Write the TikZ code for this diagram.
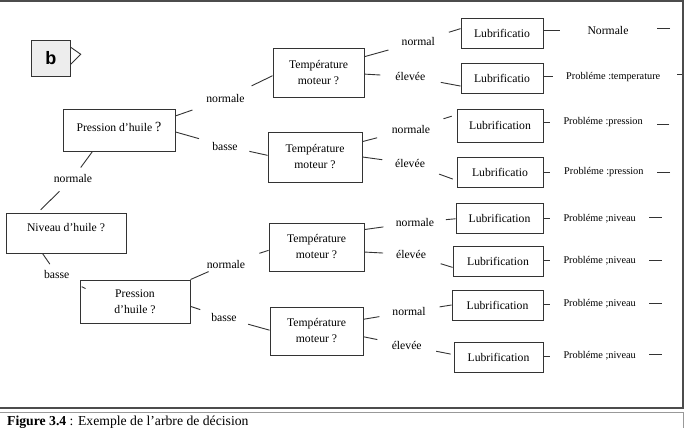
\documentclass[tikz,border=0pt]{standalone}
\usepackage{fontspec}
\setmainfont{Liberation Serif}
\newfontfamily\badgefont{Liberation Sans}

\begin{document}
\begin{tikzpicture}[x=1pt,y=-1pt,
  wire/.style={draw=black!80,line width=0.9pt},
  box node/.style={wire,inner sep=0pt,align=center,font=\fontsize{11.7}{16}\selectfont},
  label node/.style={inner sep=1pt,font=\fontsize{11.7}{14}\selectfont},
  result node/.style={inner sep=2pt,anchor=west},
  every edge/.style={wire}]

  \useasboundingbox (0,0) rectangle (688,428);

  % frame and caption
  \draw[draw=black!70,line width=1.6pt] (-5,1) rectangle (683,408);
  \draw[draw=black!40,line width=1pt] (-5,412.5) rectangle (683,450);
  \node[anchor=base west,inner sep=0pt,font=\fontsize{13.7}{16}\selectfont] (caption) at (7,425)
    {\textbf{Figure 3.4} : Exemple de l’arbre de décision};

  % badge
  \node[box node,fill=black!7,minimum width=39pt,minimum height=36pt,
    font=\badgefont\bfseries\fontsize{18}{18}\selectfont] (b) at (50.8,58) {b};
  \draw[wire] ([yshift=10.7pt]b.east) -- ([shift={(10pt,3.7pt)}]b.east) -- ([yshift=-6.3pt]b.east);

  % questions
  \node[box node,minimum width=120pt,minimum height=40pt,text height=8pt,text depth=12pt] (N) at (66,233) {Niveau d’huile ?};
  \node[box node,minimum width=112pt,minimum height=42pt,text height=10pt,text depth=8pt] (P1) at (119,130)
    {Pression d’huile {\fontsize{14}{14}\selectfont ?}};
  \node[box node,minimum width=110pt,minimum height=43pt] (P2) at (135,301.5) {Pression\\d’huile ?};

  \node[box node,minimum width=91pt,minimum height=49pt] (T1) at (318.5,72.5) {Température\\moteur ?};
  \node[box node,minimum width=94pt,minimum height=50pt] (T2) at (315,157) {Température\\moteur ?};
  \node[box node,minimum width=95pt,minimum height=48pt] (T3) at (316.5,247) {Température\\moteur ?};
  \node[box node,minimum width=93pt,minimum height=48pt] (T4) at (316.5,331) {Température\\moteur ?};

  % branch labels
  \node[label node] (lblA) at (73,178) {normale};
  \node[label node] (lblB) at (56.7,274) {basse};
  \node[label node] (lblC) at (225.5,98.5) {normale};
  \node[label node] (lblD) at (225,146) {basse};
  \node[label node] (lblE) at (226,264) {normale};
  \node[label node] (lblF) at (224,317.5) {basse};
  \foreach \i/\x/\y/\t in {1/418.3/41.7/normal, 2/410.3/76.7/élevée, 3/411/129/normale, 4/410/163.5/élevée,
      5/415/222.5/normale, 6/411/254.5/élevée, 7/409/311.7/normal, 8/406.7/345.5/élevée}
    \node[label node] (e\i) at (\x,\y) {\t};

  % leaves
  \foreach \i/\x/\y/\w/\h/\t in {1/502/33/82/30/Lubrificatio, 2/502/78/82/30/Lubrificatio,
      3/500/125.5/86/33/Lubrification, 4/500/172/86/30/Lubrificatio, 5/499.5/218/87/30/Lubrification,
      6/498/261/90/30/Lubrification, 7/497.5/305/91/30/Lubrification, 8/498.5/357/89/30/Lubrification}
    \node[box node,minimum width=\w pt,minimum height=\h pt] (L\i) at (\x,\y) {\t};

  % results
  \foreach \i/\x/\y/\f/\t in {1/585.3/30/11.7/Normale, 2/564/76.7/10.3/Probléme :temperature,
      3/561.3/122.3/10.3/Probléme :pression, 4/562/172/10.3/Probléme :pression,
      5/561.3/218.5/10.3/Probléme ;niveau, 6/561.3/260.8/10.3/Probléme ;niveau,
      7/561.3/304/10.3/Probléme ;niveau, 8/561.3/356/10.3/Probléme ;niveau}
    \node[result node,font=\fontsize{\f}{14}\selectfont] (r\i) at (\x,\y) {\t};

  % branches of the tree
  \path (P1.219) edge[shorten >=13pt] (lblA.center)
        (lblA.center) edge[shorten <=19pt,shorten >=4pt] (N.144)
        (N.221) edge[shorten >=12pt] (lblB.center)
        (lblB.center) edge[shorten <=28pt] ([xshift=6pt,yshift=-9pt]P2.north west)
        (P1.14) edge[shorten >=35pt] (lblC.center)
        (lblC.center) edge[shorten <=29pt] (T1.184)
        (P1.358) edge[shorten >=27pt] (lblD.center)
        (lblD.center) edge[shorten <=25pt] (T2.178)
        (P2.north east) edge[shorten >=19pt] (lblE.center)
        (lblE.center) edge[shorten <=35pt] (T3.184)
        (P2.355) edge[shorten >=25pt] (lblF.center)
        (lblF.center) edge[shorten <=25pt] (T4.179);

  \path (T1.19) edge[shorten >=31pt] (e1.center)
        (e1.center) edge[shorten <=32pt] (L1.174)
        (T1.358) edge[shorten >=30pt] (e2.center)
        (e2.center) edge[shorten <=31pt] (L2.191)
        (T2.18) edge[shorten >=35pt] (e3.center)
        (e3.center) edge[shorten <=34pt,shorten >=5pt] (L3.166)
        (T2.0) edge[shorten >=28pt] (e4.center)
        (e4.center) edge[shorten <=31pt,shorten >=4pt] (L4.191)
        (T3.20) edge[shorten >=32pt] (e5.center)
        (e5.center) edge[shorten <=31pt] (L5.181)
        (T3.354) edge[shorten >=28pt] (e6.center)
        (e6.center) edge[shorten <=31pt] (L6.188)
        (T4.14) edge[shorten >=30pt] (e7.center)
        (e7.center) edge[shorten <=31pt] (L7.west)
        (T4.353) edge[shorten >=30pt] (e8.center)
        (e8.center) edge[shorten <=30pt,shorten >=3pt] (L8.177);

  % outcome stubs
  \foreach \i/\g in {1/25.3,2/11,3/11.3,4/12,5/11.3,6/11.3,7/11.3,8/11.3}
    \draw[wire,shorten >=\g pt] (L\i.east |- r\i.west) -- (r\i.west);
  \foreach \i/\x/\y/\l in {1/670/28/13.3, 2/681.7/74/5, 3/669.3/124/12, 4/670/172.7/13,
      5/661.7/217.3/12.4, 6/661.7/260/12.4, 7/661.7/303.3/12.4, 8/661.7/354.3/12.4} {
    \coordinate (t\i) at (\x,\y);
    \draw[wire] (t\i) -- ++(-\l,0);
  }
\end{tikzpicture}
\end{document}
